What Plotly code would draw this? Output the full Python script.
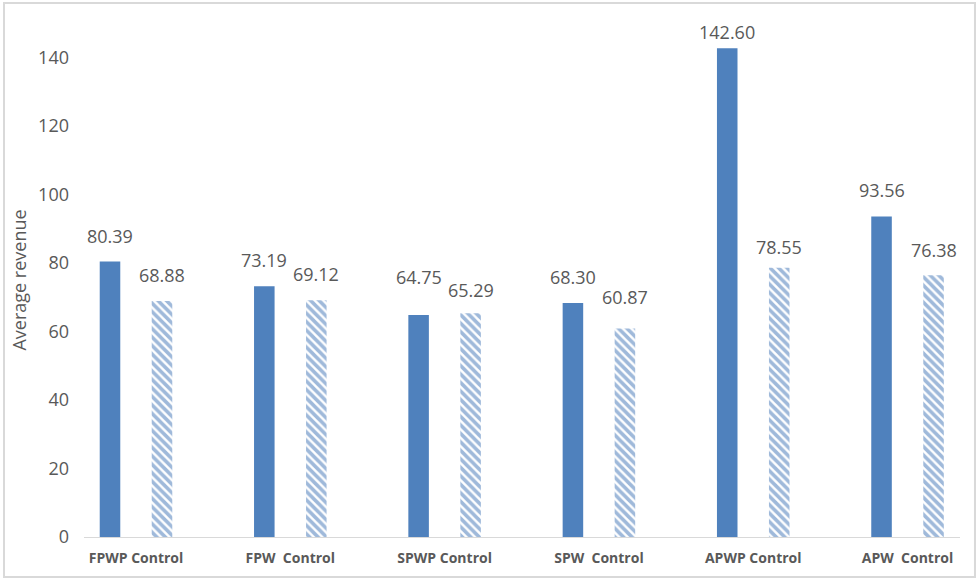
import plotly.graph_objects as go

categories = ["FPWP Control", "FPW\u00a0\u00a0Control", "SPWP Control",
              "SPW\u00a0\u00a0Control", "APWP Control", "APW\u00a0\u00a0Control"]
treatment = [80.39, 73.19, 64.75, 68.30, 142.60, 93.56]
control = [68.88, 69.12, 65.29, 60.87, 78.55, 76.38]
y_ticks = [0, 20, 40, 60, 80, 100, 120, 140]

# label gaps (px) between bar top and label, as placed in the source chart
gap_treat = [18, 18, 30, 18, 8, 18]
gap_ctrl = [18, 18, 15, 23, 13, 17]

BLUE = "#4F81BD"
HATCH = "#3F74B6"
GRAY = "#595959"
FONT = "Open Sans"

fig = go.Figure()
fig.add_trace(go.Bar(
    x=categories, y=treatment, name="Treatment",
    marker=dict(color=BLUE, line=dict(width=0)),
))
fig.add_trace(go.Bar(
    x=categories, y=control, name="Control",
    marker=dict(color="white", line=dict(width=0),
                pattern=dict(shape="\\", fgcolor=HATCH, bgcolor="white",
                             size=6, solidity=0.6)),
))

annotations = []
for cat, v, g in zip(categories, treatment, gap_treat):
    annotations.append(dict(x=cat, y=v, xref="x", yref="y", text=f"{v:.2f}",
                            showarrow=False, xshift=-26, yshift=g - 6,
                            yanchor="bottom", xanchor="center",
                            font=dict(family=FONT, size=18, color=GRAY)))
for cat, v, g in zip(categories, control, gap_ctrl):
    annotations.append(dict(x=cat, y=v, xref="x", yref="y", text=f"{v:.2f}",
                            showarrow=False, xshift=26, yshift=g - 6,
                            yanchor="bottom", xanchor="center",
                            font=dict(family=FONT, size=18, color=GRAY)))

fig.update_layout(
    width=976, height=578,
    margin=dict(l=84, r=16, t=23, b=41, autoexpand=False),
    paper_bgcolor="white", plot_bgcolor="white",
    barmode="group", bargap=0.326, bargroupgap=0.605,
    showlegend=False,
    font=dict(family=FONT, color=GRAY),
    annotations=annotations,
    shapes=[dict(type="rect", xref="paper", yref="paper",
                 x0=-0.0913, x1=1.0171, y0=-0.0778, y1=1.0389,
                 line=dict(color="#D9D9D9", width=2), layer="below")],
)
fig.update_xaxes(
    type="category", range=[-0.337, 5.34],
    showline=True, linecolor="#D9D9D9", linewidth=1,
    showgrid=False, zeroline=False, ticks="",
    tickfont=dict(family=FONT, size=14, color=GRAY, weight="bold"),
    ticklabelstandoff=8,
)
fig.update_yaxes(
    range=[0, 150], tickvals=y_ticks,
    showline=False, showgrid=False, zeroline=False, ticks="",
    tickfont=dict(family=FONT, size=18, color=GRAY),
    ticklabelstandoff=14,
    title=dict(text="Average revenue", font=dict(family=FONT, size=18, color=GRAY),
               standoff=6),
)

fig.write_html("out.html", config={"displayModeBar": False},
               post_script="document.body.style.margin='0';document.body.style.overflow='hidden';")
